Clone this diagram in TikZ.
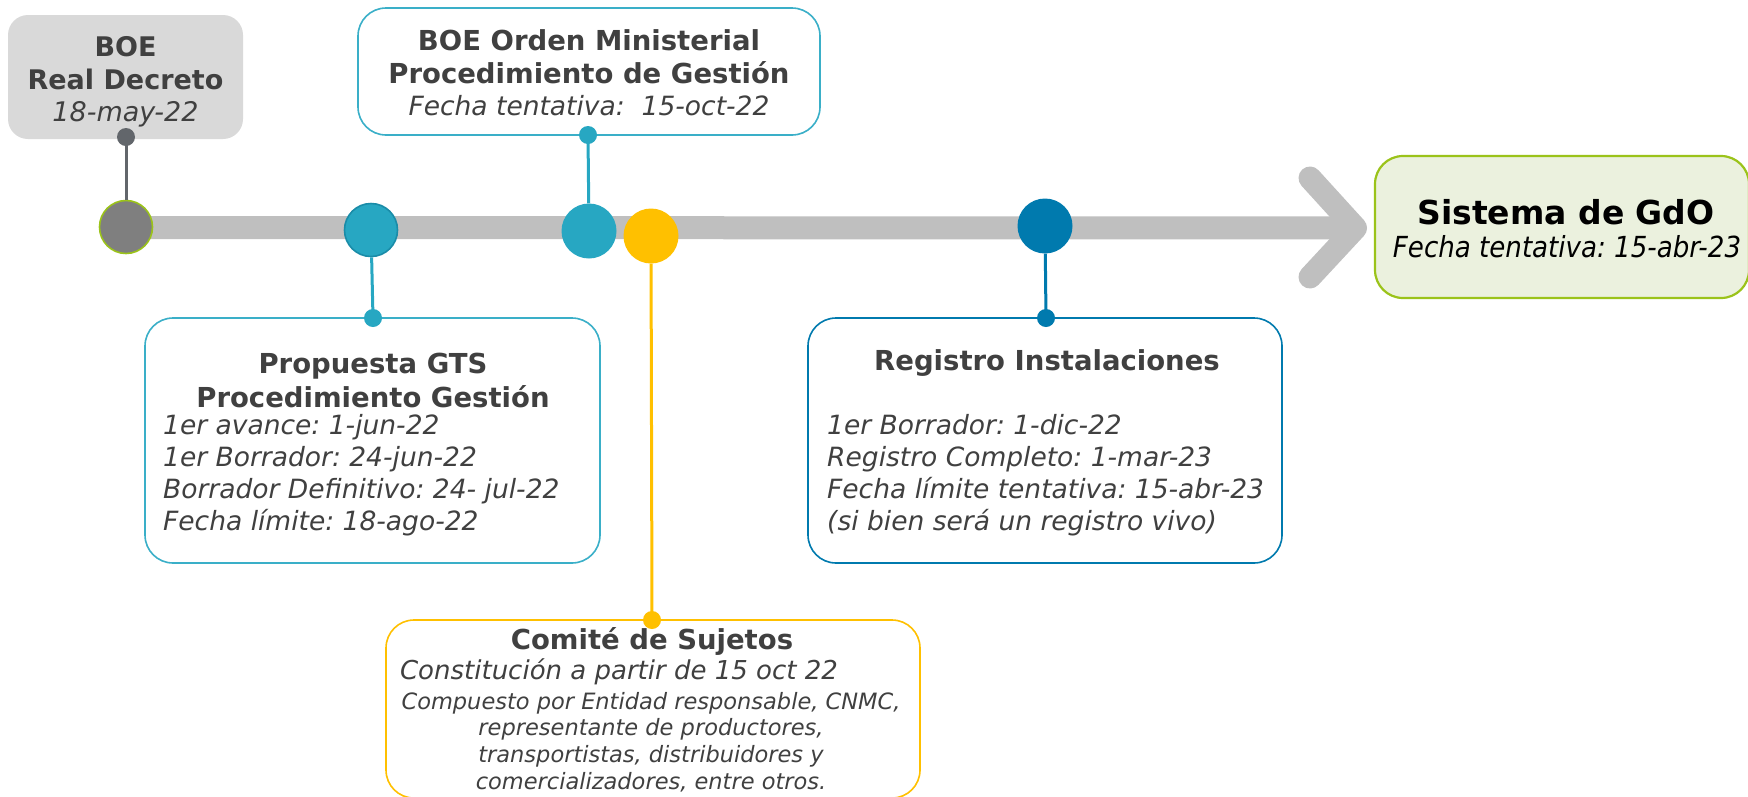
\documentclass[tikz,border=0pt]{standalone}
\usepackage{fontspec}
\setmainfont{DejaVu Sans}
\newfontfamily\condfont{DejaVu Sans Condensed}
\frenchspacing
\definecolor{txt}{HTML}{404040}
\definecolor{barc}{HTML}{BFBFBF}
\definecolor{boefill}{HTML}{D9D9D9}
\definecolor{dgray}{HTML}{62666B}
\definecolor{mgray}{HTML}{7F7F7F}
\definecolor{lime}{HTML}{9BC31A}
\definecolor{teal}{HTML}{27A7C2}
\definecolor{tealb}{HTML}{3AAFC8}
\definecolor{tealdk}{HTML}{1A8CA8}
\definecolor{yel}{HTML}{FFC000}
\definecolor{dblue}{HTML}{007AAE}
\definecolor{sfill}{HTML}{EBF1DE}
\tikzset{
  box/.style={draw, rounded corners=28pt, line width=1.6pt, fill=white, inner sep=0pt},
  dot/.style={circle, inner sep=0pt, minimum size=18pt},
  bigc/.style={circle, inner sep=0pt, minimum size=55pt},
  conn/.style={line width=3pt},
  title/.style={font=\bfseries\fontsize{27.5}{34}\selectfont, text=txt, align=center, inner sep=0pt},
  item/.style={font=\itshape\fontsize{26.5}{32}\selectfont, text=txt, align=left, inner sep=0pt, anchor=west},
  small/.style={font=\itshape\fontsize{22.5}{26.7}\selectfont, text=txt, align=center, inner sep=0pt},
}
\begin{document}
\begin{tikzpicture}[x=1pt,y=-1pt]
\useasboundingbox (0,0) rectangle (1748,796);
% timeline bar and arrow
\coordinate (start) at (126,227.5);
\coordinate (tip) at (1355.5,228);
\coordinate (armtop) at (1310,178);
\coordinate (armbot) at (1310,277);
\draw[barc, line width=23pt] (start) -- (tip);
\draw[barc, line width=23pt, line cap=round, line join=round] (armtop) -- (tip) -- (armbot);

% BOE Real Decreto
\node[draw=none, fill=boefill, rounded corners=20pt, minimum width=235pt, minimum height=124pt, inner sep=0pt] (boe) at (125.5,77) {};
\node[font=\fontsize{27}{32.5}\selectfont, text=txt, align=center, inner sep=0pt] (boet) at (125.5,82)
  {{\bfseries BOE}\\{\bfseries Real Decreto}\\{\itshape 18-may-22}};
\node[dot, fill=dgray] (boedot) at (126,137) {};
\node[bigc, fill=mgray, draw=lime, line width=1.6pt, minimum size=53pt] (c1) at (126,227) {};
\draw[conn, dgray] (boedot.center) -- (c1);

% BOE Orden Ministerial
\node[box, draw=tealb, minimum width=462pt, minimum height=127pt] (orden) at (589,71.5) {};
\node[font=\fontsize{27}{32.5}\selectfont, text=txt, align=center, inner sep=0pt] (ordent) at (589,73)
  {{\bfseries\fontsize{27.5}{32.5}\selectfont BOE Orden Ministerial}\\{\bfseries\fontsize{27.5}{32.5}\selectfont Procedimiento de Gestión}\\{\itshape\fontsize{26.5}{32.5}\selectfont Fecha tentativa:\ \ 15-oct-22}};
\node[dot, fill=teal] (ordendot) at (588,135) {};
\node[bigc, fill=teal] (c3) at (589,231) {};
\draw[conn, teal] (ordendot.center) -- (c3);

% Propuesta GTS
\node[box, draw=tealb, minimum width=455pt, minimum height=245pt] (prop) at (372.5,440.5) {};
\node[title] (propt) at (373,380) {Propuesta GTS\\Procedimiento Gestión};
\node[item] (propl) at (163,475.5) {1er avance: 1-jun-22\\1er Borrador: 24-jun-22\\Borrador Definitivo: 24- jul-22\\Fecha límite: 18-ago-22};
\node[dot, fill=teal] (propdot) at (373,318) {};
\node[bigc, fill=teal, draw=tealdk, line width=1.6pt, minimum size=53pt] (c2) at (371,230) {};
\draw[conn, teal] (propdot.center) -- (c2);

% Comité de Sujetos
\node[box, draw=yel, minimum width=534pt, minimum height=178pt] (com) at (653,709) {};
\node[title] (comt) at (652,641) {Comité de Sujetos};
\node[font=\itshape\fontsize{26}{32}\selectfont, text=txt, inner sep=0pt] (comc) at (619,672) {Constitución a partir de 15 oct 22};
\node[small] (coml) at (651,742) {Compuesto por Entidad responsable, CNMC,\\representante de productores,\\transportistas, distribuidores y\\comercializadores, entre otros.};
\node[dot, fill=yel] (comdot) at (652,620) {};
\node[bigc, fill=yel] (c4) at (651,236) {};
\draw[conn, yel] (comdot.center) -- (c4);

% Registro Instalaciones
\node[box, draw=dblue, minimum width=474pt, minimum height=245pt] (reg) at (1045,440.5) {};
\node[title] (regt) at (1047,363) {Registro Instalaciones};
\node[item] (regl) at (827,475.5) {1er Borrador: 1-dic-22\\Registro Completo: 1-mar-23\\Fecha límite tentativa: 15-abr-23\\(si bien será un registro vivo)};
\node[dot, fill=dblue] (regdot) at (1046,318) {};
\node[bigc, fill=dblue] (c5) at (1045,226) {};
\draw[conn, dblue] (regdot.center) -- (c5);

% Sistema de GdO
\node[draw=lime, fill=sfill, line width=2.2pt, rounded corners=28pt, minimum width=374pt, minimum height=142pt, inner sep=0pt] (sis) at (1562,227) {};
\node[font=\bfseries\fontsize{33}{38}\selectfont, text=black, inner sep=0pt] (sist) at (1566,212) {Sistema de GdO};
\node[font=\condfont\itshape\fontsize{29}{34}\selectfont, text=black, inner sep=0pt] (sisf) at (1567,247) {Fecha tentativa:\ 15-abr-23};
\end{tikzpicture}
\end{document}
